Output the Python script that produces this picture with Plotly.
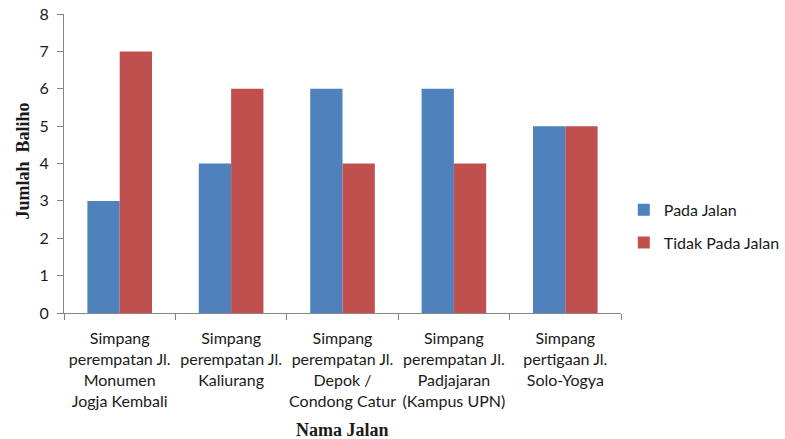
import plotly.graph_objects as go

categories = [
    "Simpang<br>perempatan Jl.<br>Monumen<br>Jogja Kembali",
    "Simpang<br>perempatan Jl.<br>Kaliurang",
    "Simpang<br>perempatan Jl.<br>Depok /<br>Condong Catur",
    "Simpang<br>perempatan Jl.<br>Padjajaran<br>(Kampus UPN)",
    "Simpang<br>pertigaan Jl.<br>Solo-Yogya",
]
pada_jalan = [3, 4, 6, 6, 5]
tidak_pada_jalan = [7, 6, 4, 4, 5]
y_ticks = [0, 1, 2, 3, 4, 5, 6, 7, 8]

fig = go.Figure()
fig.add_trace(go.Bar(x=categories, y=pada_jalan, name="Pada Jalan",
                     marker=dict(color="#4F81BD", line=dict(width=0)),
                     legendgroup="a"))
fig.add_trace(go.Bar(x=categories, y=tidak_pada_jalan, name="Tidak Pada Jalan",
                     marker=dict(color="#C0504D", line=dict(width=0)),
                     legendgroup="b"))

font_main = "Lato, 'Open Sans', sans-serif"
serif = "'Liberation Serif', 'Times New Roman', serif"
fig.update_layout(
    width=785, height=439,
    margin=dict(l=64, r=164, t=14, b=126, autoexpand=False),
    paper_bgcolor="white", plot_bgcolor="white",
    barmode="group", bargap=0.42, bargroupgap=0,
    font=dict(family=font_main, size=16, color="#1a1a1a"),
    showlegend=True,
    legend=dict(x=1.005, y=0.29, xanchor="left", yanchor="middle",
                font=dict(size=16, family=font_main), tracegroupgap=9,
                itemwidth=30, bgcolor="rgba(0,0,0,0)"),
    xaxis=dict(
        showline=True, linecolor="#868686", linewidth=1,
        ticks="outside", ticklen=6, tickcolor="#868686", tickson="boundaries",
        showgrid=False, tickangle=0, ticklabelstandoff=11,
        tickfont=dict(size=16, family=font_main),
    ),
    yaxis=dict(
        range=[0, 8], tickvals=y_ticks, showline=True, linecolor="#868686",
        linewidth=1, ticks="outside", ticklen=6, tickcolor="#868686",
        showgrid=False, zeroline=False, ticklabelstandoff=5,
        tickfont=dict(size=16, family=font_main),
    ),
    annotations=[
        dict(text="<b>Jumlah&nbsp; Baliho</b>", xref="paper", yref="paper",
             x=0, y=0.5, xshift=-42, yshift=2, xanchor="center", yanchor="middle",
             textangle=-90, showarrow=False,
             font=dict(family=serif, size=18, color="#1a1a1a")),
        dict(text="<b>Nama Jalan</b>", xref="paper", yref="paper",
             x=0.5, y=0, yshift=-117, xanchor="center", yanchor="middle",
             showarrow=False,
             font=dict(family=serif, size=18, color="#1a1a1a")),
    ],
)

fig.write_html("out.html")
